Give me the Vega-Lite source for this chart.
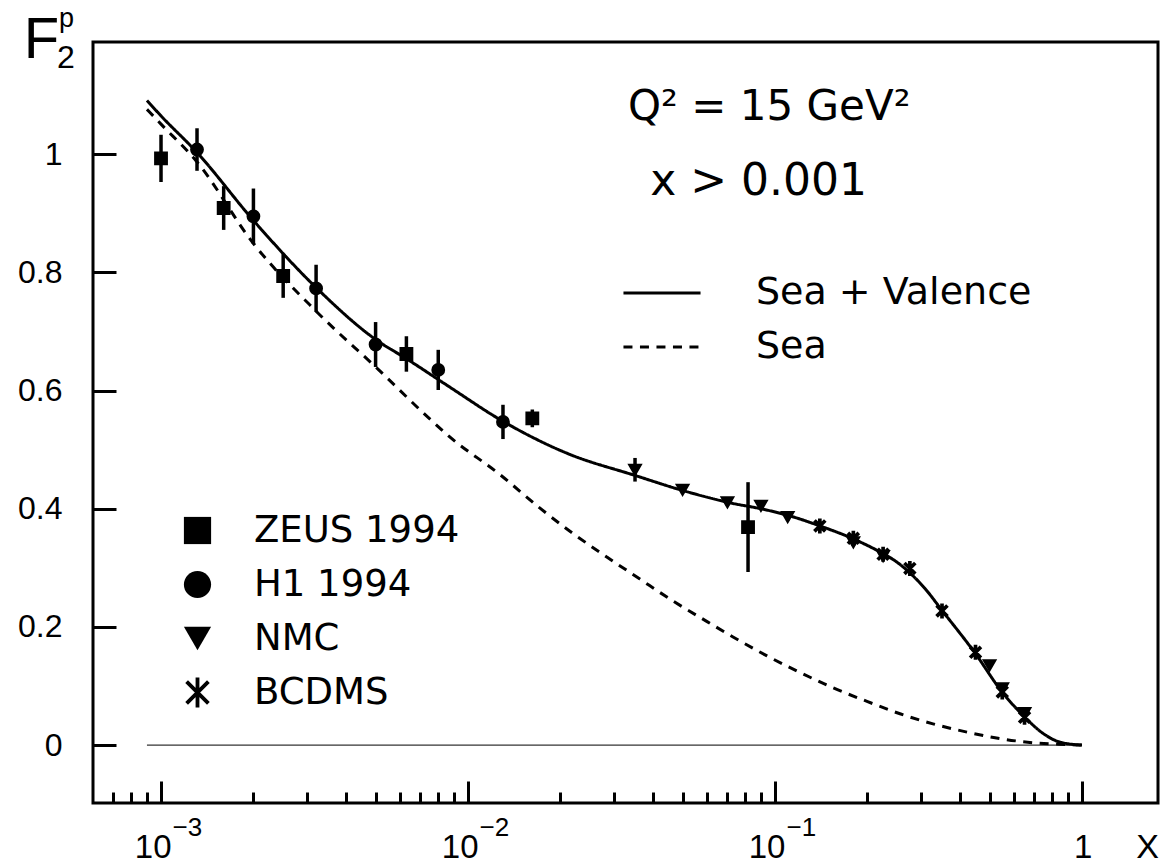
{
  "$schema": "https://vega.github.io/schema/vega-lite/v6.json",
  "width": 1065,
  "height": 761,
  "autosize": {"type": "none"},
  "padding": {"left": 93, "top": 42, "right": 11, "bottom": 63},
  "background": "white",
  "config": {
    "view": {"stroke": "black", "strokeWidth": 3, "fill": "white"},
    "axis": {"grid": false, "domain": false, "labelColor": "black", "tickColor": "black", "titleColor": "black"}
  },
  "datasets": {
    "curves": [
      {"x": 0.0009, "F2": 1.091, "curve": "Sea + Valence"},
      {"x": 0.001, "F2": 1.065, "curve": "Sea + Valence"},
      {"x": 0.00131, "F2": 1.003, "curve": "Sea + Valence"},
      {"x": 0.002, "F2": 0.888, "curve": "Sea + Valence"},
      {"x": 0.00322, "F2": 0.773, "curve": "Sea + Valence"},
      {"x": 0.00505, "F2": 0.685, "curve": "Sea + Valence"},
      {"x": 0.0063, "F2": 0.654, "curve": "Sea + Valence"},
      {"x": 0.0086, "F2": 0.608, "curve": "Sea + Valence"},
      {"x": 0.013, "F2": 0.548, "curve": "Sea + Valence"},
      {"x": 0.021, "F2": 0.494, "curve": "Sea + Valence"},
      {"x": 0.0352, "F2": 0.456, "curve": "Sea + Valence"},
      {"x": 0.05, "F2": 0.431, "curve": "Sea + Valence"},
      {"x": 0.073, "F2": 0.409, "curve": "Sea + Valence"},
      {"x": 0.09, "F2": 0.4, "curve": "Sea + Valence"},
      {"x": 0.11, "F2": 0.389, "curve": "Sea + Valence"},
      {"x": 0.14, "F2": 0.371, "curve": "Sea + Valence"},
      {"x": 0.18, "F2": 0.349, "curve": "Sea + Valence"},
      {"x": 0.225, "F2": 0.324, "curve": "Sea + Valence"},
      {"x": 0.246, "F2": 0.312, "curve": "Sea + Valence"},
      {"x": 0.273, "F2": 0.293, "curve": "Sea + Valence"},
      {"x": 0.308, "F2": 0.265, "curve": "Sea + Valence"},
      {"x": 0.35, "F2": 0.228, "curve": "Sea + Valence"},
      {"x": 0.448, "F2": 0.156, "curve": "Sea + Valence"},
      {"x": 0.549, "F2": 0.09, "curve": "Sea + Valence"},
      {"x": 0.652, "F2": 0.047, "curve": "Sea + Valence"},
      {"x": 0.746, "F2": 0.02, "curve": "Sea + Valence"},
      {"x": 0.848, "F2": 0.005, "curve": "Sea + Valence"},
      {"x": 1.0, "F2": 0.0, "curve": "Sea + Valence"},
      {"x": 0.0009, "F2": 1.076, "curve": "Sea"},
      {"x": 0.001, "F2": 1.051, "curve": "Sea"},
      {"x": 0.00131, "F2": 0.987, "curve": "Sea"},
      {"x": 0.002, "F2": 0.849, "curve": "Sea"},
      {"x": 0.00325, "F2": 0.731, "curve": "Sea"},
      {"x": 0.00505, "F2": 0.638, "curve": "Sea"},
      {"x": 0.0074, "F2": 0.555, "curve": "Sea"},
      {"x": 0.0087, "F2": 0.522, "curve": "Sea"},
      {"x": 0.0127, "F2": 0.458, "curve": "Sea"},
      {"x": 0.01716, "F2": 0.401, "curve": "Sea"},
      {"x": 0.022, "F2": 0.358, "curve": "Sea"},
      {"x": 0.0284, "F2": 0.318, "curve": "Sea"},
      {"x": 0.0363, "F2": 0.281, "curve": "Sea"},
      {"x": 0.0465, "F2": 0.244, "curve": "Sea"},
      {"x": 0.0601, "F2": 0.209, "curve": "Sea"},
      {"x": 0.073, "F2": 0.183, "curve": "Sea"},
      {"x": 0.0942, "F2": 0.151, "curve": "Sea"},
      {"x": 0.1206, "F2": 0.123, "curve": "Sea"},
      {"x": 0.1545, "F2": 0.097, "curve": "Sea"},
      {"x": 0.1994, "F2": 0.074, "curve": "Sea"},
      {"x": 0.2554, "F2": 0.053, "curve": "Sea"},
      {"x": 0.327, "F2": 0.036, "curve": "Sea"},
      {"x": 0.422, "F2": 0.022, "curve": "Sea"},
      {"x": 0.5406, "F2": 0.011, "curve": "Sea"},
      {"x": 0.6925, "F2": 0.004, "curve": "Sea"},
      {"x": 0.8936, "F2": 0.001, "curve": "Sea"},
      {"x": 1.0, "F2": 0.0, "curve": "Sea"}
    ],
    "points": [
      {"exp": "ZEUS 1994", "x": 0.001, "F2": 0.993, "lo": 0.953, "hi": 1.033},
      {"exp": "ZEUS 1994", "x": 0.0016, "F2": 0.909, "lo": 0.872, "hi": 0.946},
      {"exp": "ZEUS 1994", "x": 0.0025, "F2": 0.794, "lo": 0.757, "hi": 0.831},
      {"exp": "ZEUS 1994", "x": 0.0063, "F2": 0.662, "lo": 0.632, "hi": 0.692},
      {"exp": "ZEUS 1994", "x": 0.0162, "F2": 0.553, "lo": 0.538, "hi": 0.568},
      {"exp": "ZEUS 1994", "x": 0.0817, "F2": 0.369, "lo": 0.293, "hi": 0.445},
      {"exp": "H1 1994", "x": 0.00131, "F2": 1.008, "lo": 0.972, "hi": 1.044},
      {"exp": "H1 1994", "x": 0.002, "F2": 0.895, "lo": 0.848, "hi": 0.942},
      {"exp": "H1 1994", "x": 0.0032, "F2": 0.773, "lo": 0.733, "hi": 0.813},
      {"exp": "H1 1994", "x": 0.005, "F2": 0.678, "lo": 0.64, "hi": 0.716},
      {"exp": "H1 1994", "x": 0.008, "F2": 0.635, "lo": 0.601, "hi": 0.669},
      {"exp": "H1 1994", "x": 0.013, "F2": 0.547, "lo": 0.518, "hi": 0.576},
      {"exp": "NMC", "x": 0.035, "F2": 0.466, "lo": 0.446, "hi": 0.486},
      {"exp": "NMC", "x": 0.05, "F2": 0.432, "lo": 0.426, "hi": 0.438},
      {"exp": "NMC", "x": 0.07, "F2": 0.411, "lo": 0.405, "hi": 0.417},
      {"exp": "NMC", "x": 0.09, "F2": 0.405, "lo": 0.4, "hi": 0.41},
      {"exp": "NMC", "x": 0.11, "F2": 0.386, "lo": 0.38, "hi": 0.392},
      {"exp": "NMC", "x": 0.18, "F2": 0.343, "lo": 0.338, "hi": 0.348},
      {"exp": "NMC", "x": 0.225, "F2": 0.32, "lo": 0.315, "hi": 0.325},
      {"exp": "NMC", "x": 0.5, "F2": 0.135, "lo": 0.131, "hi": 0.139},
      {"exp": "NMC", "x": 0.55, "F2": 0.096, "lo": 0.092, "hi": 0.1},
      {"exp": "NMC", "x": 0.65, "F2": 0.054, "lo": 0.05, "hi": 0.058},
      {"exp": "BCDMS", "x": 0.14, "F2": 0.371, "lo": 0.366, "hi": 0.376},
      {"exp": "BCDMS", "x": 0.18, "F2": 0.35, "lo": 0.345, "hi": 0.355},
      {"exp": "BCDMS", "x": 0.225, "F2": 0.323, "lo": 0.318, "hi": 0.328},
      {"exp": "BCDMS", "x": 0.275, "F2": 0.299, "lo": 0.294, "hi": 0.304},
      {"exp": "BCDMS", "x": 0.35, "F2": 0.227, "lo": 0.222, "hi": 0.232},
      {"exp": "BCDMS", "x": 0.45, "F2": 0.157, "lo": 0.152, "hi": 0.162},
      {"exp": "BCDMS", "x": 0.55, "F2": 0.09, "lo": 0.085, "hi": 0.095},
      {"exp": "BCDMS", "x": 0.65, "F2": 0.047, "lo": 0.042, "hi": 0.052}
    ]
  },
  "layer": [
    {
      "data": {"values": [{}]},
      "mark": {"type": "rule", "strokeWidth": 1, "color": "black"},
      "encoding": {
        "x": {"datum": 0.0009, "type": "quantitative",
          "axis": {"orient": "bottom", "values": [0.0007, 0.0008, 0.0009, 0.002, 0.003, 0.004, 0.005, 0.006, 0.007, 0.008, 0.009, 0.02, 0.03, 0.04, 0.05, 0.06, 0.07, 0.08, 0.09, 0.2, 0.3, 0.4, 0.5, 0.6, 0.7, 0.8, 0.9], "ticks": true, "tickSize": -11, "tickWidth": 3, "labels": false, "domain": false, "title": null}},
        "x2": {"datum": 1},
        "y": {"datum": 0, "type": "quantitative", "axis": null}
      }
    },
    {
      "data": {"name": "curves"},
      "mark": {"type": "line", "strokeWidth": 3, "color": "black", "interpolate": "monotone"},
      "encoding": {
        "x": {"field": "x", "type": "quantitative",
          "scale": {"type": "log", "domain": [0.0006004, 1.7687], "nice": false},
          "axis": {"orient": "bottom", "values": [0.001, 0.01, 0.1, 1], "ticks": false, "tickSize": 0, "domain": false,
            "labelExpr": "datum.value >= 0.5 ? '1' : '10'", "labelFont": "Liberation Sans", "labelFontSize": 33,
            "labelBaseline": "alphabetic", "labelAlign": "right", "labelOffset": 10, "labelPadding": 54,
            "labelOverlap": false, "labelFlush": false, "labelBound": false,
            "title": "X", "titleX": 1054, "titleY": 54, "titleAlign": "center", "titleBaseline": "alphabetic",
            "titleFont": "Liberation Sans", "titleFontSize": 34, "titleFontWeight": "normal"}},
        "y": {"field": "F2", "type": "quantitative",
          "scale": {"domain": [-0.098, 1.19], "nice": false, "zero": false},
          "axis": {"orient": "left", "values": [0, 0.2, 0.4, 0.6, 0.8, 1], "ticks": false, "tickSize": 0, "domain": false,
            "labelExpr": "datum.value == 0 ? '0' : datum.value == 1 ? '1' : format(datum.value, '.1f')",
            "labelFont": "Liberation Sans", "labelFontSize": 32, "labelPadding": 31, "labelOverlap": false,
            "title": "F", "titleAngle": 0, "titleX": -52, "titleY": 15, "titleAlign": "center", "titleBaseline": "alphabetic",
            "titleFont": "Liberation Sans", "titleFontSize": 58, "titleFontWeight": "normal"}},
        "strokeDash": {"field": "curve", "type": "nominal",
          "scale": {"domain": ["Sea + Valence", "Sea"], "range": [[1, 0], [9, 7.5]]},
          "legend": {"orient": "none", "legendX": 550, "legendY": 232, "title": null, "padding": 0,
            "symbolType": "M-3,0H3", "symbolSize": 660, "symbolStrokeWidth": 3, "symbolStrokeColor": "black",
            "labelFont": "DejaVu Sans", "labelFontSize": 38, "labelColor": "black", "labelOffset": 75, "labelLimit": 0, "rowPadding": 16}}
      }
    },
    {
      "data": {"name": "points"},
      "mark": {"type": "rule", "strokeWidth": 3.5, "color": "black"},
      "encoding": {
        "x": {"field": "x", "type": "quantitative",
          "axis": {"orient": "bottom", "values": [0.001, 0.01, 0.1], "ticks": false, "tickSize": 0, "domain": false,
            "labelExpr": "datum.value < 0.005 ? '−3' : datum.value < 0.05 ? '−2' : '−1'",
            "labelFont": "Liberation Sans", "labelFontSize": 26, "labelBaseline": "alphabetic", "labelAlign": "left",
            "labelOffset": 11, "labelPadding": 32, "labelOverlap": false, "labelFlush": false, "labelBound": false, "title": null}},
        "y": {"field": "lo", "type": "quantitative",
          "axis": {"orient": "left", "values": [0, 0.2, 0.4, 0.6, 0.8, 1], "ticks": true, "tickSize": -23, "tickWidth": 3,
            "labels": false, "domain": false, "title": null}},
        "y2": {"field": "hi"}
      }
    },
    {
      "data": {"name": "points"},
      "mark": {"type": "point", "filled": true, "size": 140, "color": "black", "stroke": "black", "strokeWidth": 2, "opacity": 1},
      "encoding": {
        "x": {"field": "x", "type": "quantitative",
          "axis": {"orient": "bottom", "values": [0.001, 0.01, 0.1, 1], "ticks": true, "tickSize": -22, "tickWidth": 3,
            "labels": false, "domain": false, "title": null}},
        "y": {"field": "F2", "type": "quantitative", "axis": null},
        "shape": {"field": "exp", "type": "nominal",
          "scale": {"domain": ["ZEUS 1994", "H1 1994", "NMC", "BCDMS"],
            "range": ["square", "circle", "triangle-down", "M-0.14,-1.1L0.14,-1.1L0.14,1.1L-0.14,1.1Z M-0.7,-0.9L0.9,0.7L0.7,0.9L-0.9,-0.7Z M-0.7,0.9L-0.9,0.7L0.7,-0.9L0.9,-0.7Z"]},
          "legend": {"orient": "none", "legendX": 86, "legendY": 470, "title": null, "padding": 0,
            "symbolSize": 740, "symbolFillColor": "black", "symbolStrokeColor": "black", "symbolStrokeWidth": 2,
            "labelFont": "DejaVu Sans", "labelFontSize": 37, "labelColor": "black", "labelOffset": 38, "labelLimit": 0, "rowPadding": 16,
            "encode": {"symbols": {"update": {"stroke": {"value": "black"}, "strokeWidth": {"value": 2}, "fill": {"value": "black"}}}}}}
      }
    },
    {
      "data": {"values": [{}]},
      "mark": {"type": "text", "text": "2", "font": "Liberation Sans", "fontSize": 32, "align": "left", "baseline": "alphabetic", "color": "black"},
      "encoding": {
        "x": {"datum": 0.000458, "type": "quantitative", "axis": null},
        "y": {"datum": 1.1455, "type": "quantitative", "axis": null}
      }
    },
    {
      "data": {"values": [{}]},
      "mark": {"type": "text", "text": "p", "font": "Liberation Sans", "fontSize": 27, "align": "left", "baseline": "alphabetic", "color": "black"},
      "encoding": {
        "x": {"datum": 0.000465, "type": "quantitative", "axis": null},
        "y": {"datum": 1.2149, "type": "quantitative", "axis": null}
      }
    },
    {
      "data": {"values": [{}]},
      "mark": {"type": "text", "text": "Q² = 15 GeV²", "font": "DejaVu Sans", "fontSize": 42, "align": "left", "baseline": "alphabetic", "color": "black"},
      "encoding": {
        "x": {"datum": 0.0332, "type": "quantitative", "axis": null},
        "y": {"datum": 1.0575, "type": "quantitative", "axis": null}
      }
    },
    {
      "data": {"values": [{}]},
      "mark": {"type": "text", "text": "x > 0.001", "font": "DejaVu Sans", "fontSize": 44, "align": "left", "baseline": "alphabetic", "color": "black"},
      "encoding": {
        "x": {"datum": 0.0392, "type": "quantitative", "axis": null},
        "y": {"datum": 0.9306, "type": "quantitative", "axis": null}
      }
    }
  ],
  "resolve": {"scale": {"x": "shared", "y": "shared"}, "axis": {"x": "independent", "y": "independent"}}
}
